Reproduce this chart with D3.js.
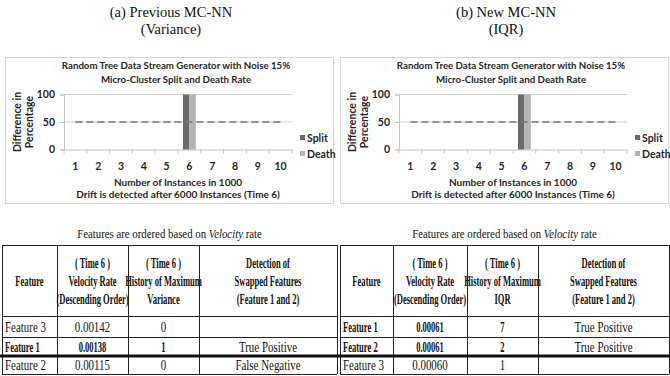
<!DOCTYPE html>
<html><head><meta charset="utf-8">
<script src="https://cdn.jsdelivr.net/npm/d3@7"></script>
<style>body{margin:0;background:#fff}svg{display:block}</style>
</head><body>
<svg id="fig" width="670" height="376"></svg>
<script>
// ---- chart data ----
const categories = ["1","2","3","4","5","6","7","8","9","10"];
const splitRate  = [0,0,0,0,0,100,0,0,0,0];
const deathRate  = [0,0,0,0,0,100,0,0,0,0];
const threshold  = [50,50,50,50,50,50,50,50,50,50];
const yTicks = [0,50,100];
const seriesNames = ["Split","Death"];
const seriesColors = ["#696969","#b4b4b4"];
const panelHeadings = [["(a) Previous MC-NN","(Variance)"],["(b) New MC-NN","(IQR)"]];
const chartTitle = ["Random Tree Data Stream Generator with Noise 15%","Micro-Cluster Split and Death Rate"];
const xTitle = ["Number of Instances in 1000","Drift is detected after 6000 Instances (Time 6)"];
const yTitle = ["Difference in","Percentage"];

// ---- table data ----
const captionParts = ["Features are ordered based on ","Velocity"," rate"];
const varianceHeader = [["Feature"],["( Time 6 )","Velocity Rate","(Descending Order)"],["( Time 6 )","History of Maximum","Variance"],["Detection of","Swapped Features","(Feature 1 and 2)"]];
const iqrHeader = [["Feature"],["( Time 6 )","Velocity Rate","(Descending Order)"],["( Time 6 )","History of Maximum","IQR"],["Detection of","Swapped Features","(Feature 1 and 2)"]];
const varianceFeatures  = ["Feature 3","Feature 1","Feature 2"];
const varianceVelocity  = [0.00142,0.00138,0.00115];
const varianceHistory   = [0,1,0];
const varianceDetection = ["","True Positive","False Negative"];
const varianceBold      = [false,true,false];
const iqrFeatures  = ["Feature 1","Feature 2","Feature 3"];
const iqrVelocity  = [0.00061,0.00061,0.00060];
const iqrHistory   = [7,2,1];
const iqrDetection = ["True Positive","True Positive",""];
const iqrBold      = [true,true,false];

const svg = d3.select("#fig");
const sans = "Lato, 'Open Sans', sans-serif";
const serif = "'Liberation Serif', 'Times New Roman', serif";
const ink = "#262626";

// panel headings
[[171, panelHeadings[0]], [506, panelHeadings[1]]].forEach(([cx, lines]) => {
  lines.forEach((t, i) => svg.append("text")
    .attr("x", cx).attr("y", 17 + i * 17)
    .attr("text-anchor", "middle")
    .style("font-family", serif).style("font-size", "14.5px").style("fill", "#111")
    .text(t));
});

function drawChart(ox) {
  const g = svg.append("g");
  g.append("rect").attr("x", ox + 0.5).attr("y", 57.5).attr("width", 328).attr("height", 146)
    .attr("fill", "#fff").attr("stroke", "#d4d4d4");

  chartTitle.forEach((t, i) => g.append("text")
    .attr("x", ox + 171).attr("y", 69 + i * 14).attr("text-anchor", "middle")
    .style("font-family", sans).style("font-weight", "bold").style("font-size", "9.7px").style("fill", ink)
    .text(t));

  const x = d3.scaleBand().domain(categories).range([ox + 59, ox + 287]);
  const xs = d3.scaleBand().domain(seriesNames).range([0, x.bandwidth()]).paddingOuter(0.78).paddingInner(0);
  const y = d3.scaleLinear().domain([0, 100]).range([149.5, 94.5]);

  // gridlines
  g.selectAll(".grid").data(yTicks.filter(v => v > 0)).join("line")
    .attr("x1", x.range()[0]).attr("x2", x.range()[1])
    .attr("y1", d => y(d)).attr("y2", d => y(d))
    .attr("stroke", "#d0d0d0");

  // y axis
  const ya = g.append("g").attr("transform", `translate(${x.range()[0]},0)`)
    .call(d3.axisLeft(y).tickValues(yTicks).tickSize(4).tickPadding(5));
  ya.select(".domain").attr("stroke", "#c4c4c4");
  ya.selectAll(".tick line").attr("stroke", "#c4c4c4");
  ya.selectAll("text").style("font-family", sans).style("font-weight", "bold").style("font-size", "10.5px").style("fill", ink);

  // x axis with ticks on band boundaries
  const xa = g.append("g").attr("transform", `translate(0,${y(0)})`)
    .call(d3.axisBottom(x).tickSize(0).tickPadding(13));
  xa.select(".domain").attr("stroke", "#c4c4c4");
  xa.selectAll("text").style("font-family", sans).style("font-weight", "bold").style("font-size", "10.5px").style("fill", ink);
  const bounds = categories.map(c => x(c)).concat([x.range()[1]]);
  g.selectAll(".xt").data(bounds).join("line")
    .attr("x1", d => d).attr("x2", d => d).attr("y1", y(0)).attr("y2", y(0) + 4)
    .attr("stroke", "#c4c4c4");

  // bars
  [splitRate, deathRate].forEach((vals, si) => {
    g.selectAll(null).data(categories).join("rect")
      .attr("x", (c) => x(c) + xs(seriesNames[si]))
      .attr("width", xs.bandwidth())
      .attr("y", (c, i) => y(vals[i]))
      .attr("height", (c, i) => y(0) - y(vals[i]))
      .attr("fill", seriesColors[si]);
  });

  // threshold line
  const line = d3.line().x((d, i) => x(categories[i]) + x.bandwidth() / 2).y(d => y(d));
  g.append("path").datum(threshold).attr("d", line)
    .attr("fill", "none").attr("stroke", "#7a7a7a").attr("stroke-width", 1.3).attr("stroke-dasharray", "7,4");

  // axis titles
  xTitle.forEach((t, i) => g.append("text")
    .attr("x", ox + 173).attr("y", 186 + i * 12).attr("text-anchor", "middle")
    .style("font-family", sans).style("font-weight", "bold").style("font-size", "10px").style("fill", ink)
    .text(t));
  yTitle.forEach((t, i) => g.append("text")
    .attr("transform", `translate(${ox + 16 + i * 12},${y(50)}) rotate(-90)`)
    .attr("text-anchor", "middle")
    .style("font-family", sans).style("font-weight", "bold").style("font-size", "10.5px").style("fill", ink)
    .text(t));

  // legend
  seriesNames.forEach((n, i) => {
    g.append("rect").attr("x", ox + 295).attr("y", 135 + i * 16).attr("width", 5).attr("height", 5).attr("fill", seriesColors[i]);
    g.append("text").attr("x", ox + 302).attr("y", 141.5 + i * 16)
      .style("font-family", sans).style("font-weight", "bold").style("font-size", "10.5px").style("fill", ink)
      .text(n);
  });
}
drawChart(5);
drawChart(340);

// ---- tables ----
const sxRegular = 0.78, sxBold = 0.61;
function ctext(g, x, y, t, bold) {
  return g.append("text")
    .attr("transform", `translate(${x},${y}) scale(${bold ? sxBold : sxRegular},1)`)
    .attr("text-anchor", "middle")
    .style("font-family", serif).style("font-size", "14px")
    .style("font-weight", bold ? "bold" : "normal").style("fill", "#111")
    .text(t);
}
const rowY = [245, 316, 337, 356, 374];
const fmt = d3.format(".5f");

function drawTable(cols, header, feats, vel, hist, det, bold) {
  const g = svg.append("g");
  const cx = cols.slice(0, -1).map((c, i) => (c + cols[i + 1]) / 2);
  // caption
  const cap = g.append("text")
    .attr("transform", `translate(${(cols[0] + cols[cols.length - 1]) / 2},238) scale(0.8,1)`)
    .attr("text-anchor", "middle")
    .style("font-family", serif).style("font-size", "13.5px").style("fill", "#111");
  captionParts.forEach((p, i) => cap.append("tspan").style("font-style", i === 1 ? "italic" : "normal").text(p));

  // header
  header.forEach((lines, ci) => {
    const y0 = (rowY[0] + rowY[1]) / 2 - (lines.length - 1) * 9 + 5;
    lines.forEach((t, li) => ctext(g, cx[ci], y0 + li * 18, t, true));
  });
  // body rows
  feats.forEach((f, r) => {
    const yb = (rowY[r + 1] + rowY[r + 2]) / 2 + 5;
    const cells = [f, fmt(vel[r]), String(hist[r]), det[r]];
    cells.forEach((t, ci) => {
      const x = ci === 0 ? cols[0] + 3 : cx[ci];
      const el = ctext(g, x, yb, t, bold[r] && ci < 3);
      if (ci === 0) el.attr("text-anchor", "start");
    });
  });
  // grid lines
  rowY.forEach((yy, i) => {
    if (i === 3) return;
    g.append("line").attr("x1", cols[0]).attr("x2", cols[cols.length - 1])
      .attr("y1", yy + 0.5).attr("y2", yy + 0.5).attr("stroke", "#222");
  });
  cols.forEach(c => g.append("line").attr("x1", c + 0.5).attr("x2", c + 0.5)
    .attr("y1", rowY[0]).attr("y2", rowY[rowY.length - 1]).attr("stroke", "#222"));
}
drawTable([2, 57, 128, 199, 337], varianceHeader, varianceFeatures, varianceVelocity, varianceHistory, varianceDetection, varianceBold);
drawTable([340, 393, 467, 538, 669], iqrHeader, iqrFeatures, iqrVelocity, iqrHistory, iqrDetection, iqrBold);
// heavy separator running across both tables
svg.append("line").attr("x1", 0).attr("x2", 670).attr("y1", rowY[3]).attr("y2", rowY[3])
  .attr("stroke", "#111").attr("stroke-width", 3);
</script>
</body></html>
